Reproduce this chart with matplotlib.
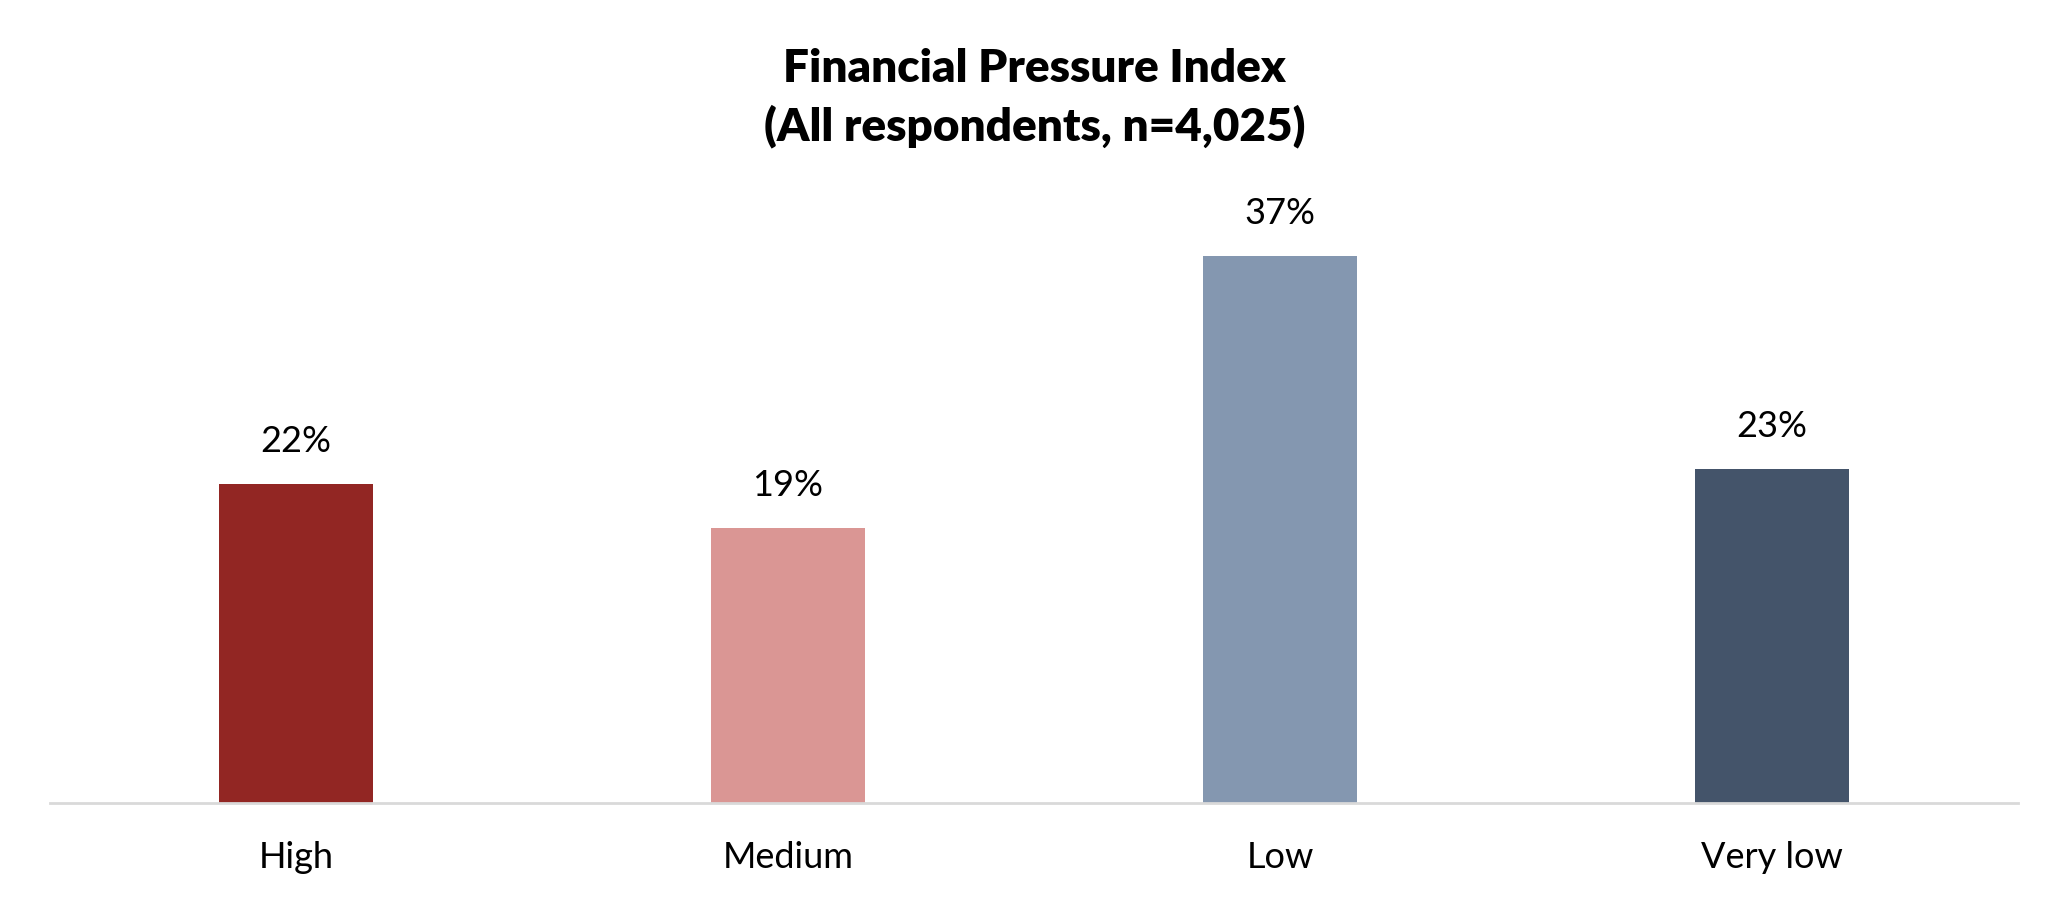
import matplotlib
matplotlib.use('Agg')
import matplotlib.pyplot as plt

categories = ['High', 'Medium', 'Low', 'Very low']
# shares in percent
shares = [21.6, 18.6, 37.0, 22.6]
bar_colors = ['#922623', '#DA9694', '#8497B0', '#44546A']

plt.rcParams['font.family'] = ['Lato', 'DejaVu Sans']

fig = plt.figure(figsize=(20.69, 9.10), dpi=100)
ax = fig.add_axes([50 / 2069, 107 / 910, 1968 / 2069, 591 / 910])

x = range(len(categories))
ax.bar(x, shares, width=0.315, color=bar_colors)

for xi, v in zip(x, shares):
    ax.annotate(f'{round(v)}%', (xi, v), xytext=(0, 23), textcoords='offset points',
                ha='center', va='baseline', fontsize=26, color='black')

ax.set_xlim(-0.5, 3.5)
ax.set_ylim(0, 40)
ax.set_xticks(list(x))
ax.set_xticklabels(categories, fontsize=26)
ax.tick_params(axis='x', length=0, pad=27)
ax.set_yticks([])
for side in ['top', 'right', 'left']:
    ax.spines[side].set_visible(False)
ax.spines['bottom'].set_color('#D9D9D9')
ax.spines['bottom'].set_linewidth(2)

fig.text(0.5, 1 - 82 / 910, 'Financial Pressure Index', ha='center', va='baseline',
         fontsize=33, fontweight='heavy')
fig.text(0.5, 1 - 140 / 910, '(All respondents, n=4,025)', ha='center', va='baseline',
         fontsize=33, fontweight='heavy')

fig.savefig('out.png', dpi=100, facecolor='white')
